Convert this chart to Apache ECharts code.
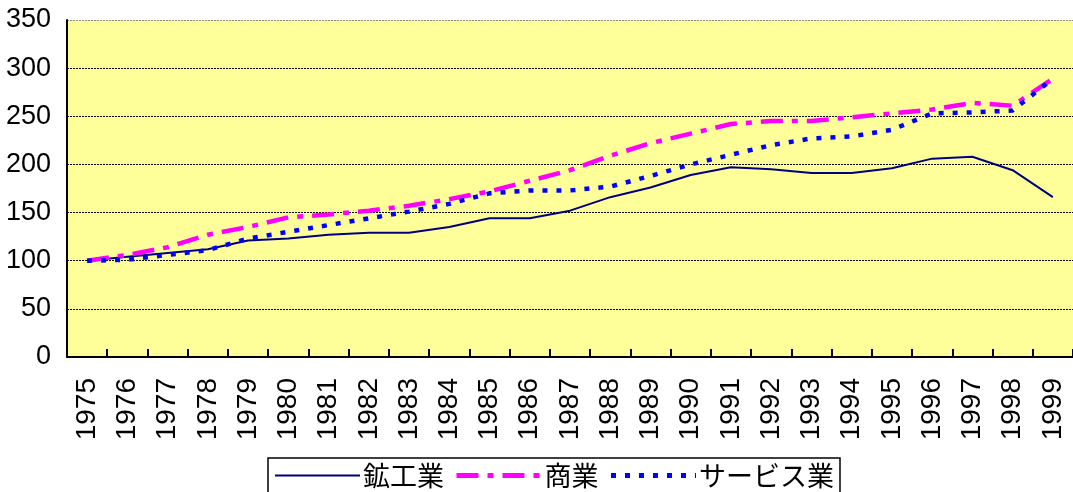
<!DOCTYPE html>
<html>
<head>
<meta charset="utf-8">
<script src="https://cdn.jsdelivr.net/npm/echarts@6/dist/echarts.min.js"></script>
<style>
html,body{margin:0;padding:0;background:#fff;}
#chart{width:1073px;height:492px;}
</style>
</head>
<body>
<div id="chart"></div>
<script>
const years = ['1975','1976','1977','1978','1979','1980','1981','1982','1983','1984','1985','1986','1987','1988','1989','1990','1991','1992','1993','1994','1995','1996','1997','1998','1999'];
const seriesNames = ['鉱工業','商業','サービス業'];
const mining   = [100,104,108,112,121,123,127,129,129,135,144,144,152,166,176,189,197,195,191,191,196,206,208,194,166];
const commerce = [100,106,114,127,135,145,148,152,157,164,172,183,194,209,222,232,242,245,245,249,253,257,264,261,289];
const service  = [100,101,106,111,123,130,137,144,151,159,170,173,173,177,188,200,210,220,227,229,236,253,254,256,289];
const yTicks = [0,50,100,150,200,250,300,350];

const chart = echarts.init(document.getElementById('chart'));
const numFont = '"Liberation Sans Narrow", "Liberation Sans", Arial, sans-serif';
chart.setOption({
  animation: false,
  backgroundColor: '#ffffff',
  grid: {
    left: 67, top: 20, width: 1007, height: 337,
    show: true, backgroundColor: '#FFFF99', borderWidth: 0
  },
  legend: {
    left: 268, top: 458,
    orient: 'horizontal',
    itemWidth: 85, itemHeight: 14, itemGap: 10,
    padding: [4, 6, 20, 6],
    borderColor: '#000', borderWidth: 1.5, backgroundColor: '#fff',
    itemStyle: { opacity: 0, borderWidth: 0 },
    textStyle: { fontFamily: '"Noto Sans CJK JP", sans-serif', fontSize: 27, color: '#000', padding: [0,0,0,-2] },
    data: [
      { name: seriesNames[0], lineStyle: { width: 2 } },
      { name: seriesNames[1], lineStyle: { width: 5 } },
      { name: seriesNames[2], lineStyle: { width: 5 } }
    ]
  },
  xAxis: {
    type: 'category',
    data: years,
    boundaryGap: true,
    axisLine: { show: true, lineStyle: { color: '#000', width: 2 } },
    axisTick: { show: true, inside: true, length: 8, lineStyle: { color: '#000', width: 2 } },
    axisLabel: { rotate: 90, margin: 21, fontSize: 28, fontFamily: numFont, color: '#000', interval: 0 },
    splitLine: { show: false }
  },
  yAxis: {
    type: 'value',
    min: yTicks[0], max: yTicks[yTicks.length-1], interval: 50,
    axisLine: { show: true, lineStyle: { color: '#000', width: 2 } },
    axisTick: { show: false },
    axisLabel: { margin: 16, fontSize: 27, fontFamily: numFont, color: '#000' },
    splitLine: { show: true, lineStyle: { color: ['#000','#000','#000','#000','#000','#000','#000','#888'], width: 1.2, type: [2, 1] } }
  },
  series: [
    { name: seriesNames[0], type: 'line', data: mining, symbol: 'none', showSymbol: false,
      lineStyle: { color: '#000080', width: 2, type: 'solid' }, itemStyle: { color: '#000080' } },
    { name: seriesNames[1], type: 'line', data: commerce, symbol: 'none', showSymbol: false,
      lineStyle: { color: '#FF00FF', width: 4.5, type: [22, 9, 6, 9] }, itemStyle: { color: '#FF00FF' } },
    { name: seriesNames[2], type: 'line', data: service, symbol: 'none', showSymbol: false,
      lineStyle: { color: '#0000FF', width: 4.5, type: [5, 9] }, itemStyle: { color: '#0000FF' } }
  ]
});
</script>
</body>
</html>
